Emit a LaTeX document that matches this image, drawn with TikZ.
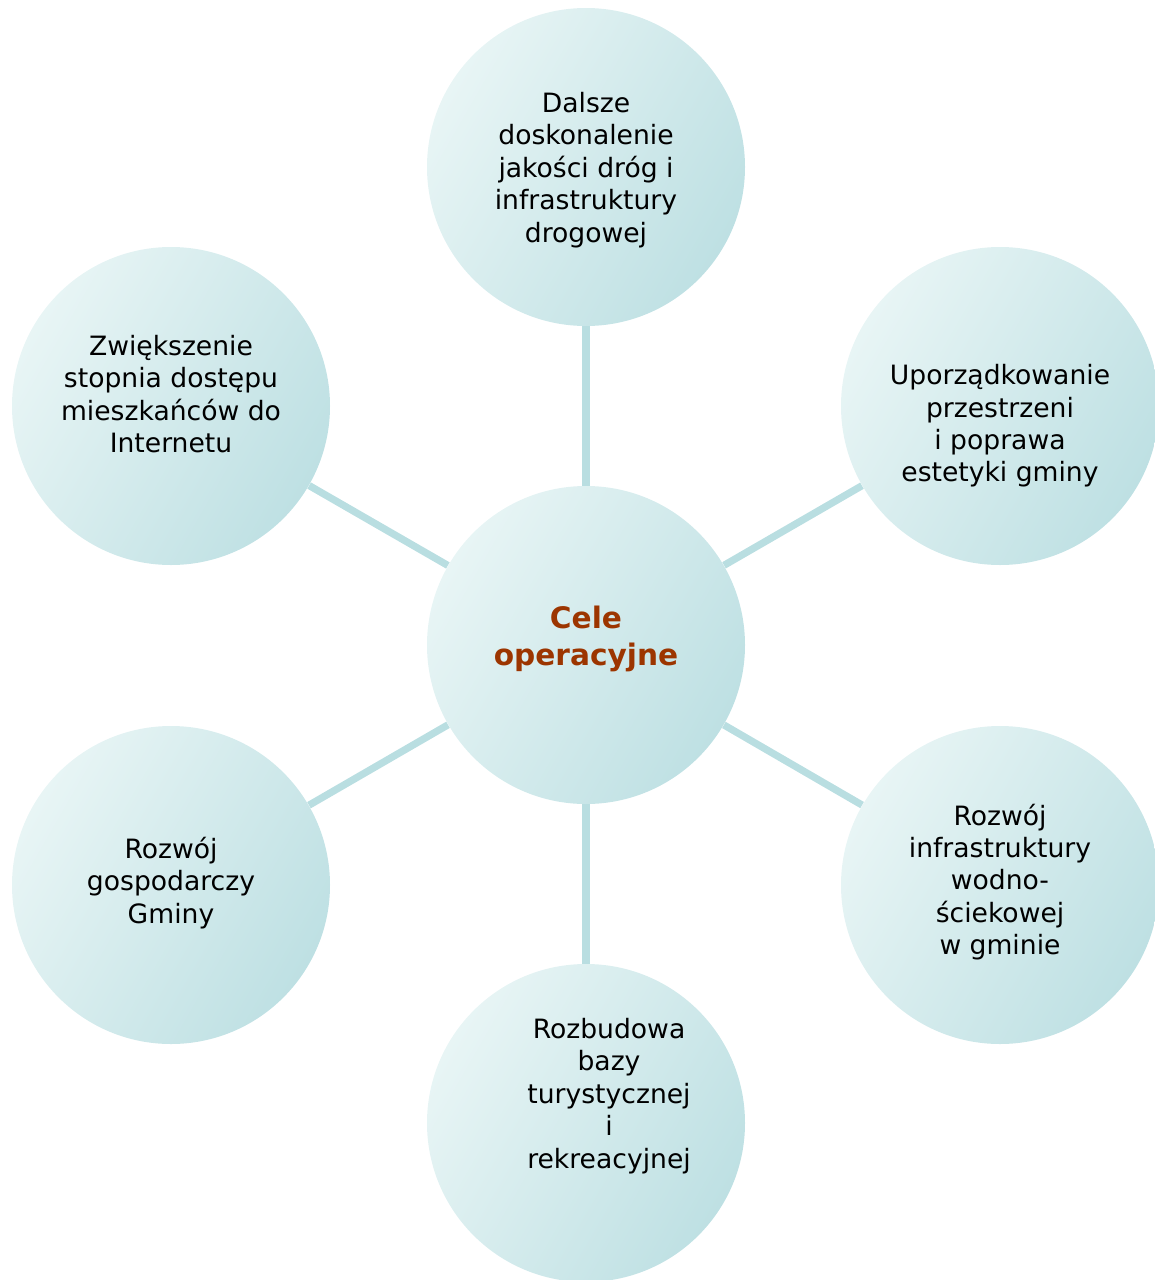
\documentclass[tikz,border=0pt]{standalone}
\usepackage{fontspec}
\setmainfont{DejaVu Sans}
\usetikzlibrary{backgrounds}
\definecolor{lite}{HTML}{E8F5F5}
\definecolor{dark}{HTML}{BEE0E3}
\definecolor{spoke}{HTML}{B9DEE1}
\definecolor{title}{HTML}{9C3500}
\begin{document}
\begin{tikzpicture}[x=0.5pt, y=-0.5pt,
  goal/.style={circle, minimum size=159pt, inner sep=0pt, shading=axis,
    top color=lite, bottom color=dark, shading angle=60},
  txt/.style={align=center, font=\fontsize{13.3}{16.2}\selectfont, text=black},
  spokeline/.style={line width=3.6pt, draw=spoke}]
\useasboundingbox (0,0) rectangle (1155,1280);
% circles
\node[goal] (hub) at (586,645) {};
\node[goal] (top) at (586,167) {};
\node[goal] (upright) at (1000,406) {};
\node[goal] (lowright) at (1000,885) {};
\node[goal] (bottom) at (586,1123) {};
\node[goal] (lowleft) at (171,885) {};
\node[goal] (upleft) at (171,406) {};
% texts
\node[align=center, font=\bfseries\fontsize{14.8}{18.5}\selectfont, text=title] (hubtxt) at (586,639) {Cele\\operacyjne};
\node[txt] (toptxt) at (586,170) {Dalsze\\doskonalenie\\jakości dróg i\\infrastruktury\\drogowej};
\node[txt] (uprighttxt) at (1000,426) {Uporządkowanie\\przestrzeni\\i poprawa\\estetyki gminy};
\node[txt] (lowrighttxt) at (1000,882) {Rozwój\\infrastruktury\\wodno-\\ściekowej\\w gminie};
\node[txt] (bottomtxt) at (609,1096) {Rozbudowa\\bazy\\turystycznej\\i\\rekreacyjnej};
\node[txt] (lowlefttxt) at (171,883) {Rozwój\\gospodarczy\\Gminy};
\node[txt] (uplefttxt) at (171,394) {Zwiększenie\\stopnia dostępu\\mieszkańców do\\Internetu};
% spokes
\begin{scope}[on background layer]
\foreach \n in {top,upright,lowright,bottom,lowleft,upleft}
  \draw[spokeline] (hub) -- (\n);
\end{scope}
\end{tikzpicture}
\end{document}
